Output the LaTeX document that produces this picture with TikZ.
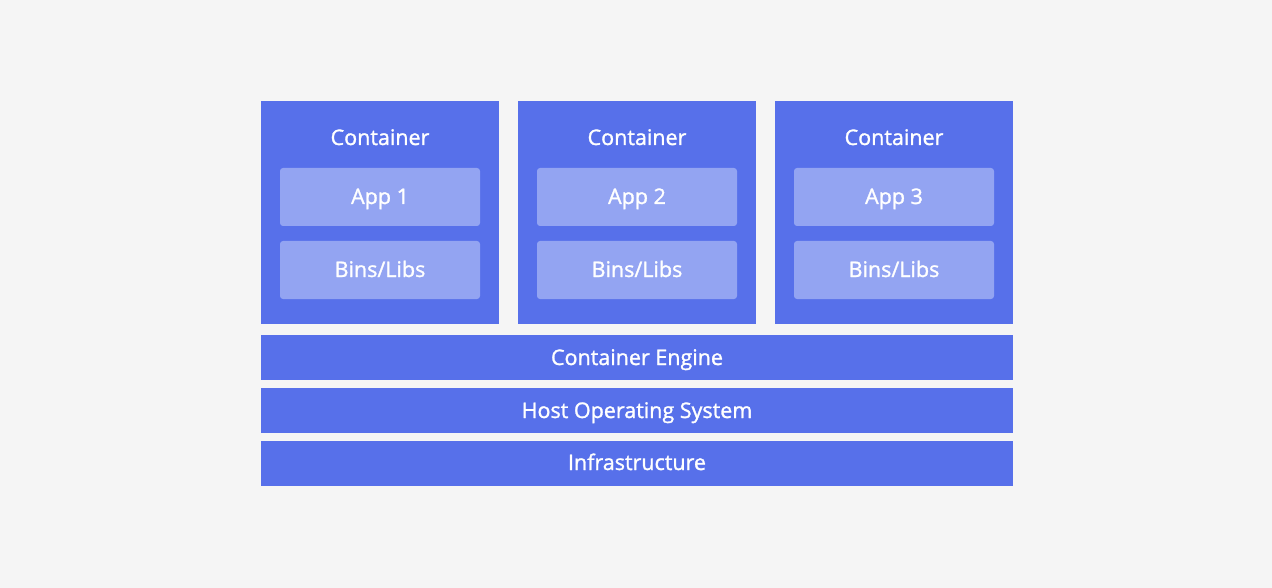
\documentclass[tikz,border=0pt]{standalone}
\usepackage{fontspec}
\setmainfont{Open Sans}
\newfontfamily\lblfont{Open Sans}[FakeBold=1.3]
\definecolor{bg}{HTML}{F5F5F5}
\definecolor{boxblue}{HTML}{5770EA}
\definecolor{innerblue}{HTML}{93A4F2}
\begin{document}
\begin{tikzpicture}[x=1pt,y=-1pt,
  outer/.style={fill=boxblue, draw=none},
  inner/.style={fill=innerblue, draw=none, rounded corners=3pt},
  lbl/.style={text=white, font=\lblfont\fontsize{21.5}{25}\selectfont, inner sep=0pt, anchor=base}]
\fill[bg] (0,0) rectangle (1272,588);
\useasboundingbox (0,0) rectangle (1272,588);
\foreach \i/\x in {1/261,2/518,3/775}{
  \path[outer] (\x,101) rectangle (\x+238,324);
  \node[lbl] (c\i) at (\x+119,145) {Container};
  \path[inner] (\x+19,168) rectangle (\x+219,226);
  \node[lbl] (a\i) at (\x+119,204) {App \i};
  \path[inner] (\x+19,241) rectangle (\x+219,299);
  \node[lbl] (b\i) at (\x+119,277) {Bins/Libs};
}
\path[outer] (261,335) rectangle (1013,380);
\node[lbl] (eng) at (637,365) {Container Engine};
\path[outer] (261,388) rectangle (1013,433);
\node[lbl] (os) at (637,418) {Host Operating System};
\path[outer] (261,441) rectangle (1013,486);
\node[lbl] (infra) at (637,470) {Infrastructure};
\end{tikzpicture}
\end{document}
